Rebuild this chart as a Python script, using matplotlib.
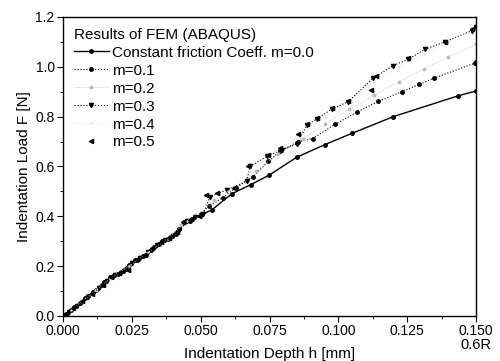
import numpy as np
import matplotlib
matplotlib.use("Agg")
import matplotlib.pyplot as plt
from matplotlib.ticker import MultipleLocator

plt.rcParams['font.family'] = ['Liberation Sans', 'DejaVu Sans']

# data (h in mm, F in N)

h_m00 = [0.0, 0.003, 0.006, 0.009, 0.012, 0.015, 0.018, 0.021, 0.024, 0.027, 0.030,
         0.033, 0.036, 0.039, 0.042, 0.046, 0.050, 0.054, 0.0613, 0.0682, 0.0749,
         0.0849, 0.0952, 0.105, 0.120, 0.1434, 0.150]
F_m00 = [0.0, 0.025, 0.05, 0.08, 0.105, 0.135, 0.16, 0.178, 0.205, 0.225, 0.245,
         0.275, 0.30, 0.315, 0.35, 0.38, 0.405, 0.425, 0.49, 0.527, 0.565,
         0.637, 0.688, 0.733, 0.80, 0.883, 0.903]

h_m01 = [0.001, 0.004, 0.008, 0.011, 0.014, 0.017, 0.020, 0.023, 0.026, 0.029, 0.032,
         0.035, 0.038, 0.041, 0.044, 0.047, 0.050, 0.053, 0.058, 0.063, 0.069,
         0.0746, 0.0788, 0.0855, 0.0907, 0.0988, 0.1067, 0.1145, 0.123, 0.1294,
         0.1349, 0.1497, 0.150]
F_m01 = [0.008, 0.035, 0.07, 0.095, 0.125, 0.155, 0.17, 0.19, 0.225, 0.24, 0.265,
         0.29, 0.31, 0.33, 0.375, 0.39, 0.41, 0.44, 0.475, 0.515, 0.559,
         0.62, 0.66, 0.70, 0.712, 0.769, 0.818, 0.861, 0.90, 0.929,
         0.955, 1.015, 1.02]

h_m02 = [0.002, 0.007, 0.012, 0.019, 0.025, 0.031, 0.037, 0.043, 0.049, 0.055,
         0.062, 0.070, 0.078, 0.087, 0.095, 0.104, 0.113, 0.122, 0.131, 0.140, 0.150]
F_m02 = [0.015, 0.06, 0.105, 0.165, 0.21, 0.255, 0.305, 0.365, 0.40, 0.465,
         0.51, 0.58, 0.65, 0.71, 0.77, 0.83, 0.885, 0.94, 0.99, 1.04, 1.09]

h_m03 = [0.002, 0.005, 0.009, 0.013, 0.016, 0.019, 0.022, 0.025, 0.028, 0.031, 0.034,
         0.037, 0.040, 0.042, 0.045, 0.048, 0.051, 0.0534, 0.0595, 0.0667, 0.068,
         0.074, 0.0795, 0.085, 0.0885, 0.0921, 0.0976, 0.1036, 0.1127, 0.120,
         0.1254, 0.1314, 0.1387, 0.1485, 0.150]
F_m03 = [0.015, 0.04, 0.075, 0.11, 0.14, 0.163, 0.18, 0.213, 0.232, 0.255, 0.285,
         0.305, 0.322, 0.345, 0.38, 0.395, 0.41, 0.479, 0.506, 0.54, 0.60,
         0.64, 0.667, 0.69, 0.765, 0.79, 0.83, 0.86, 0.955, 1.005,
         1.03, 1.07, 1.10, 1.145, 1.16]

h_m04 = [0.003, 0.010, 0.017, 0.024, 0.031, 0.038, 0.045, 0.052, 0.060, 0.068,
         0.077, 0.086, 0.095, 0.104, 0.113, 0.122, 0.131, 0.140, 0.150]
F_m04 = [0.025, 0.085, 0.15, 0.2, 0.255, 0.31, 0.38, 0.45, 0.50, 0.58,
         0.66, 0.72, 0.80, 0.86, 0.94, 1.0, 1.05, 1.1, 1.16]

h_m05 = [0.001, 0.0035, 0.007, 0.0105, 0.0145, 0.0175, 0.0205, 0.0235, 0.027,
         0.0295, 0.0325, 0.0355, 0.0385, 0.0415, 0.0435, 0.0465, 0.0495, 0.052,
         0.056, 0.062, 0.0673, 0.0746, 0.0788, 0.0855, 0.0885, 0.0921, 0.0976,
         0.1036, 0.112, 0.1135, 0.1254, 0.1387, 0.1485, 0.150]
F_m05 = [0.008, 0.03, 0.058, 0.088, 0.125, 0.158, 0.172, 0.185, 0.228, 0.243,
         0.272, 0.298, 0.312, 0.335, 0.375, 0.388, 0.40, 0.485, 0.495, 0.515,
         0.602, 0.644, 0.674, 0.731, 0.77, 0.794, 0.834, 0.863, 0.908, 0.961,
         1.035, 1.10, 1.15, 1.165]

fig = plt.figure(figsize=(5, 3.61), dpi=100)
ax = fig.add_axes([0.126, 0.125, 0.826, 0.828])

ax.plot(h_m00, F_m00, '-', color='black', lw=1.0, marker='o', ms=2.5,
        label='Constant friction Coeff. m=0.0')
ax.plot(h_m01, F_m01, ':', color='black', lw=0.8, marker='o', ms=2.5, label='m=0.1')
ax.plot(h_m02, F_m02, ':', color='#bbbbbb', lw=0.6, marker='*', ms=2.5, label='m=0.2')
ax.plot(h_m03, F_m03, ':', color='black', lw=0.8, marker='v', ms=3, label='m=0.3')
ax.plot(h_m04, F_m04, ':', color='#dddddd', lw=0.6, marker='.', ms=1.5, label='m=0.4')
ax.plot(h_m05, F_m05, linestyle='none', color='black', marker='<', ms=3, label='m=0.5')

ax.set_xlim(0, 0.150)
ax.set_ylim(0, 1.2)
ax.xaxis.set_major_locator(MultipleLocator(0.025))
ax.xaxis.set_minor_locator(MultipleLocator(0.0125))
ax.yaxis.set_major_locator(MultipleLocator(0.2))
ax.yaxis.set_minor_locator(MultipleLocator(0.1))
ax.set_xticklabels([f"{v:.3f}" for v in ax.get_xticks()])
ax.set_yticklabels([f"{v:.1f}" for v in ax.get_yticks()])
ax.tick_params(which='both', direction='out', top=False, right=False, labelsize=10)
ax.tick_params(which='major', length=4, pad=2)
ax.tick_params(which='minor', length=2)
for s in ax.spines.values():
    s.set_linewidth(1.0)

ax.set_xlabel("Indentation Depth h [mm]", fontsize=11, labelpad=6)
ax.set_ylabel("Indentation Load F [N]", fontsize=11, labelpad=3)
ax.text(0.150, -0.117, "0.6R", fontsize=10.5, ha='center', va='center')

leg = ax.legend(title="Results of FEM (ABAQUS)", loc='upper left', frameon=False,
                fontsize=11, title_fontsize=11, handlelength=2.3,
                handletextpad=0.2, labelspacing=0.26, borderaxespad=0.3)
leg._legend_box.align = "left"

fig.savefig("out.png", dpi=100)
